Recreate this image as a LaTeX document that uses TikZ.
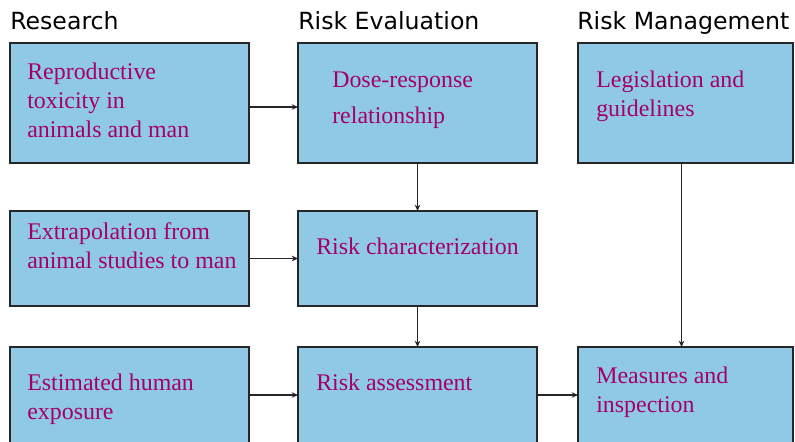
\documentclass[tikz,border=0pt]{standalone}
\usepackage{fontspec}
\setmainfont{Liberation Serif}
\newfontfamily\headfont{DejaVu Sans}
\usetikzlibrary{arrows.meta}
\definecolor{boxblue}{RGB}{143,201,230}
\definecolor{boxtext}{RGB}{165,0,105}
\tikzset{
	box/.style={draw=black!85, line width=0.9pt, fill=boxblue, inner sep=0pt, outer sep=0pt, anchor=north west, minimum width=5.975cm},
	boxtxt/.style={anchor=base west, align=left, inner sep=0pt, text=boxtext, font=\fontsize{17}{20.6}\selectfont},
	head/.style={anchor=base west, inner sep=0pt, font=\headfont\fontsize{16.8}{20}\selectfont},
	arr/.style={-{Stealth[length=4.5pt,width=4pt]}, line width=0.8pt, black!85}
}
\begin{document}
\begin{tikzpicture}[x=0.025cm, y=-0.025cm]
		\useasboundingbox (0,0) rectangle (795,441);
		\clip (0,0) rectangle (795,441);

		\node[head] (hres) at (10,29) {Research};
		\node[head] (heval) at (298,29) {Risk Evaluation};
		\node[head] (hman) at (577,29) {Risk Management};

		\node[box, minimum height=3cm] (repro) at (10,43) {};
		\node[box, minimum height=3cm] (dose) at (298,43) {};
		\node[box, minimum height=3cm, minimum width=5.375cm] (legis) at (578,43) {};
		\node[box, minimum height=2.375cm] (extra) at (10,211) {};
		\node[box, minimum height=2.375cm] (charac) at (298,211) {};
		\node[box, minimum height=2.4cm] (expo) at (10,347) {};
		\node[box, minimum height=2.4cm] (assess) at (298,347) {};
		\node[box, minimum height=2.4cm, minimum width=5.375cm] (measures) at (578,347) {};

		% text placed by the baseline of its last line
		\node[boxtxt] (reprotxt) at (27,137) {Reproductive\\toxicity in\\animals and man};
		\node[boxtxt] (dosetxt) at (332,123) {Dose-response\\[5pt]relationship};
		\node[boxtxt] (legistxt) at (596,116) {Legislation and\\guidelines};
		\node[boxtxt] (extratxt) at (27,268) {Extrapolation from\\animal studies to man};
		\node[boxtxt] (charactxt) at (316,254) {Risk characterization};
		\node[boxtxt] (expotxt) at (27,419) {Estimated human\\exposure};
		\node[boxtxt] (assesstxt) at (316,390) {Risk assessment};
		\node[boxtxt] (measurestxt) at (596,412) {Measures and\\inspection};

		\path ([yshift=-0.1cm]repro.east) edge[arr] ([yshift=-0.1cm]dose.west)
		(extra) edge[arr] (charac)
		(expo) edge[arr] (assess)
		(assess) edge[arr] (measures)
		(dose) edge[arr] (charac)
		(charac) edge[arr] (assess)
		([xshift=-0.1cm]legis.south) edge[arr] ([xshift=-0.1cm]measures.north);
	\end{tikzpicture}
\end{document}
